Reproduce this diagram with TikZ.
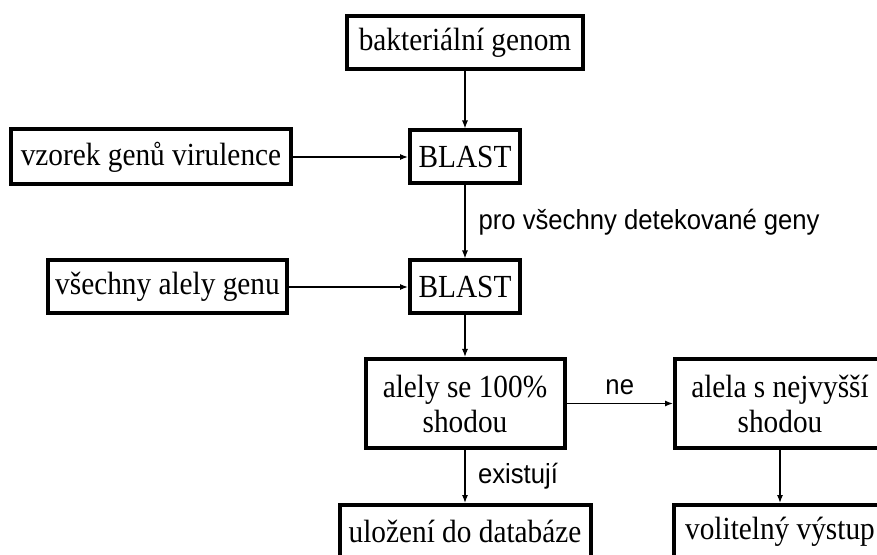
\documentclass[tikz,border=0pt]{standalone}
\usepackage{fontspec}
\setmainfont{Liberation Serif}[FakeStretch=0.91]
\newfontfamily\notefont{Liberation Sans}[FakeStretch=0.93]
\usetikzlibrary{arrows.meta}

\begin{document}
\begin{tikzpicture}[
  x=0.5pt, y=-0.5pt,
  box/.style={draw, line width=2pt, align=center, inner sep=2pt,
    minimum height=26.5pt, font=\fontsize{16.1}{17.5}\selectfont},
  flow/.style={-{Latex[length=4pt,width=3pt]}, line width=0.6pt},
  note/.style={font=\notefont\fontsize{13.8}{15}\selectfont, inner sep=0pt}
]
\clip (0,0) rectangle (877,555);
\fill[white] (0,0) rectangle (877,555);

\node[box, minimum width=118pt] (genom) at (465,43) {bakteriální genom};
\node[box, minimum width=55pt] (blast1) at (465,157) {BLAST};
\node[box, minimum width=140pt, minimum height=27.5pt] (vzorek) at (151,157) {vzorek genů virulence};
\node[box, minimum width=55pt] (blast2) at (465,287) {BLAST};
\node[box, minimum width=119.5pt] (alely) at (167.5,287) {všechny alely genu};
\node[box, minimum width=99.5pt, minimum height=44.5pt] (shoda) at (465,403.5) {alely se 100\%\\shodou};
\node[box, minimum width=105pt, minimum height=44.5pt] (nejvyssi) at (780,403.5) {alela s nejvyšší\\shodou};
\node[box, minimum width=125.5pt] (ulozeni) at (465,531.5) {uložení do databáze};
\node[box, minimum width=106pt] (vystup) at (780,531.5) {volitelný výstup};

\draw[flow] (genom) -- (blast1);
\draw[flow] (vzorek) -- (blast1);
\draw[flow] (blast1) -- node[note, right=6.5pt] {pro všechny detekované geny} (blast2);
\draw[flow] (alely) -- (blast2);
\draw[flow] (blast2) -- (shoda);
\draw[flow] (shoda) -- node[note, above=4.25pt] {ne} (nejvyssi);
\draw[flow] (shoda) -- node[note, right=6.25pt] {existují} (ulozeni);
\draw[flow] (nejvyssi) -- (vystup);

\end{tikzpicture}
\end{document}
